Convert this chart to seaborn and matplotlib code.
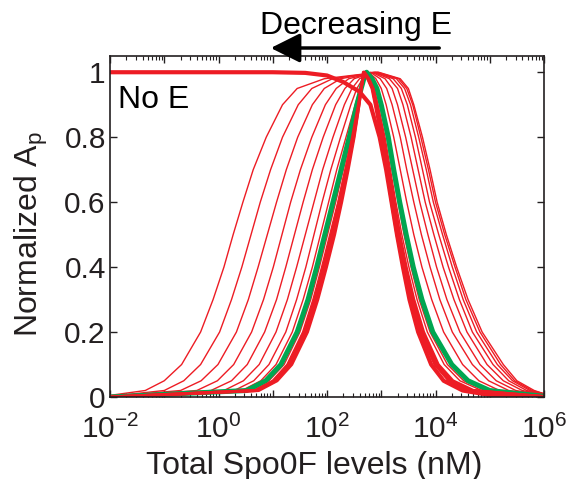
import numpy as np
import pandas as pd
import matplotlib.pyplot as plt
import seaborn as sns
from matplotlib.ticker import LogLocator, FuncFormatter, NullFormatter, FixedLocator

sns.set_style('ticks')
plt.rcParams['font.family'] = ['Liberation Sans', 'DejaVu Sans']
plt.rcParams['mathtext.fontset'] = 'custom'
plt.rcParams['mathtext.rm'] = 'Liberation Sans'
plt.rcParams['mathtext.it'] = 'Liberation Sans:italic'

# normalized Ap levels at which the curve positions (log10 nM) were read
levels_up = [0.02, 0.05, 0.1, 0.2, 0.3, 0.4, 0.5, 0.6, 0.7, 0.8, 0.9, 0.95, 0.98]
levels_down = levels_up[::-1]

# thin red curves, lowest E (widest) first: rising side, peak, falling side
c1_up = [-1.35, -1.0, -0.68, -0.33, -0.1, 0.1, 0.27, 0.45, 0.64, 0.88, 1.18, 1.45, 1.95]
c1_dn = [3.35, 3.5, 3.6, 3.76, 3.9, 4.03, 4.2, 4.39, 4.6, 4.86, 5.25, 5.5, 5.82]
c2_up = [-1.0, -0.64, -0.33, 0.02, 0.24, 0.43, 0.6, 0.77, 0.96, 1.18, 1.47, 1.72, 2.1]
c2_dn = [3.32, 3.47, 3.58, 3.73, 3.87, 4.0, 4.17, 4.36, 4.56, 4.82, 5.2, 5.46, 5.78]
c3_up = [-0.7, -0.32, -0.01, 0.33, 0.55, 0.73, 0.9, 1.07, 1.25, 1.46, 1.73, 1.95, 2.25]
c3_dn = [3.28, 3.43, 3.54, 3.69, 3.83, 3.96, 4.13, 4.31, 4.51, 4.76, 5.14, 5.42, 5.74]
c4_up = [-0.4, -0.02, 0.28, 0.61, 0.83, 1.01, 1.17, 1.33, 1.51, 1.72, 1.97, 2.17, 2.4]
c4_dn = [3.22, 3.37, 3.48, 3.63, 3.76, 3.89, 4.06, 4.24, 4.44, 4.68, 5.06, 5.35, 5.68]
c5_up = [-0.14, 0.24, 0.53, 0.85, 1.07, 1.24, 1.4, 1.56, 1.73, 1.93, 2.16, 2.33, 2.5]
c5_dn = [3.15, 3.3, 3.4, 3.55, 3.68, 3.81, 3.97, 4.14, 4.34, 4.58, 4.95, 5.25, 5.6]
c6_up = [0.1, 0.46, 0.75, 1.06, 1.27, 1.44, 1.6, 1.76, 1.92, 2.11, 2.32, 2.46, 2.6]
c6_dn = [3.07, 3.2, 3.3, 3.45, 3.58, 3.71, 3.86, 4.02, 4.21, 4.45, 4.82, 5.12, 5.48]
c7_up = [0.29, 0.65, 0.93, 1.24, 1.44, 1.61, 1.76, 1.91, 2.07, 2.25, 2.44, 2.55, 2.66]
c7_dn = [2.98, 3.1, 3.2, 3.35, 3.47, 3.6, 3.74, 3.9, 4.08, 4.31, 4.68, 4.98, 5.35]
c8_up = [0.43, 0.78, 1.06, 1.36, 1.56, 1.73, 1.88, 2.03, 2.18, 2.35, 2.52, 2.61, 2.69]
c8_dn = [2.9, 3.0, 3.09, 3.23, 3.35, 3.47, 3.6, 3.75, 3.93, 4.15, 4.5, 4.8, 5.18]
c9_up = [0.59, 0.93, 1.21, 1.5, 1.7, 1.86, 2.01, 2.16, 2.3, 2.44, 2.57, 2.63, 2.67]
c9_dn = [2.81, 2.9, 2.97, 3.1, 3.2, 3.31, 3.42, 3.55, 3.7, 3.9, 4.22, 4.52, 4.92]
c10_up = [0.65, 0.99, 1.26, 1.55, 1.74, 1.9, 2.05, 2.2, 2.33, 2.46, 2.58, 2.63, 2.66]
c10_dn = [2.79, 2.87, 2.94, 3.07, 3.17, 3.27, 3.38, 3.51, 3.66, 3.85, 4.16, 4.45, 4.85]
thin_peaks = [2.95, 2.93, 2.9, 2.88, 2.86, 2.83, 2.8, 2.77, 2.71, 2.7]
thin_start = [0.005, 0.002, 0.001, 0.0, 0.0, 0.0, 0.0, 0.0, 0.0, 0.0]
thin_end = [0.01, 0.01, 0.009, 0.008, 0.007, 0.006, 0.005, 0.004, 0.003, 0.002]

# green curve
g_up = [0.52, 0.87, 1.15, 1.45, 1.65, 1.81, 1.96, 2.11, 2.26, 2.41, 2.55, 2.63, 2.68]
g_dn = [2.83, 2.92, 3.0, 3.13, 3.23, 3.34, 3.46, 3.59, 3.75, 3.95, 4.3, 4.6, 5.0]
g_peak = 2.73

# thick red bundle (highest E)
b1_up = [0.68, 1.02, 1.29, 1.58, 1.77, 1.93, 2.08, 2.22, 2.35, 2.47, 2.58, 2.63, 2.66]
b1_dn = [2.77, 2.85, 2.92, 3.04, 3.14, 3.24, 3.34, 3.46, 3.6, 3.78, 4.05, 4.32, 4.7]
b2_up = [0.71, 1.05, 1.32, 1.61, 1.8, 1.96, 2.11, 2.25, 2.37, 2.49, 2.59, 2.63, 2.66]
b2_dn = [2.76, 2.84, 2.9, 3.02, 3.12, 3.21, 3.31, 3.43, 3.57, 3.75, 4.02, 4.28, 4.65]
b3_up = [0.74, 1.08, 1.35, 1.64, 1.83, 1.99, 2.14, 2.27, 2.39, 2.5, 2.59, 2.63, 2.66]
b3_dn = [2.75, 2.83, 2.89, 3.0, 3.1, 3.19, 3.29, 3.41, 3.55, 3.72, 3.99, 4.25, 4.62]
bundle_peaks = [2.69, 2.68, 2.67]

# no E curve
noe_x = [-2.0, 1.0, 1.6, 2.0, 2.3, 2.6, 2.8, 2.97, 3.09, 3.19, 3.29, 3.4, 3.52, 3.68, 3.92, 4.15, 4.5, 5.0, 6.0]
noe_y = [1.0, 1.0, 0.998, 0.99, 0.97, 0.94, 0.9, 0.8, 0.7, 0.6, 0.5, 0.4, 0.3, 0.2, 0.1, 0.05, 0.02, 0.006, 0.0]


def bell(name, up, peak, dn, y0, y1):
    x = [-2.0] + up + [peak] + dn + [6.0]
    y = [y0] + levels_up + [1.0] + levels_down + [y1]
    return pd.DataFrame({'curve': name, 'x': np.power(10.0, x), 'y': y})


thin_up = [c1_up, c2_up, c3_up, c4_up, c5_up, c6_up, c7_up, c8_up, c9_up, c10_up]
thin_dn = [c1_dn, c2_dn, c3_dn, c4_dn, c5_dn, c6_dn, c7_dn, c8_dn, c9_dn, c10_dn]
thin = pd.concat([bell('c%d' % (i + 1), thin_up[i], thin_peaks[i], thin_dn[i],
                       thin_start[i], thin_end[i]) for i in range(len(thin_up))])
bundle = pd.concat([bell('b1', b1_up, bundle_peaks[0], b1_dn, 0.0, 0.001),
                    bell('b2', b2_up, bundle_peaks[1], b2_dn, 0.0, 0.001),
                    bell('b3', b3_up, bundle_peaks[2], b3_dn, 0.0, 0.001)])
green = bell('g', g_up, g_peak, g_dn, 0.0, 0.002)
noe = pd.DataFrame({'x': np.power(10.0, noe_x), 'y': noe_y})

red = '#ED1C24'
grn = '#00A651'
ink = '#231F20'

fig = plt.figure(figsize=(5.68, 4.79), dpi=100)
ax = fig.add_axes([110 / 568, 1 - 397 / 479, 434 / 568, 341 / 479])

sns.lineplot(data=thin, x='x', y='y', units='curve', estimator=None, sort=False,
             color=red, lw=1.0, ax=ax)
sns.lineplot(data=green, x='x', y='y', estimator=None, sort=False,
             color=grn, lw=3.6, ax=ax)
sns.lineplot(data=bundle, x='x', y='y', units='curve', estimator=None, sort=False,
             color=red, lw=2.2, ax=ax)
sns.lineplot(data=noe, x='x', y='y', estimator=None, sort=False,
             color=red, lw=3.0, ax=ax)

ax.set_xscale('log')
ax.set_xlim(1e-2, 1e6)
ax.set_ylim(0, 1.05)
ax.xaxis.set_major_locator(LogLocator(base=10, numticks=20))
ax.xaxis.set_minor_locator(LogLocator(base=10, subs=np.arange(2, 10), numticks=100))
ax.xaxis.set_minor_formatter(NullFormatter())
ax.xaxis.set_major_formatter(FuncFormatter(
    lambda v, p: '$10^{%d}$' % round(np.log10(v)) if round(np.log10(v)) % 2 == 0 else ''))
ax.yaxis.set_major_locator(FixedLocator([0, 0.2, 0.4, 0.6, 0.8, 1.0]))
ax.yaxis.set_major_formatter(FuncFormatter(lambda v, p: '%g' % v))

ax.tick_params(which='both', direction='in', top=True, right=True, colors=ink,
               labelcolor=ink)
ax.tick_params(which='major', length=5, width=1, labelsize=21.5)
ax.tick_params(axis='x', which='major', pad=13)
ax.tick_params(axis='y', which='major', pad=3)
ax.tick_params(which='minor', length=3, width=0.8)
for s in ax.spines.values():
    s.set_linewidth(1.2)
    s.set_color(ink)

ax.set_xlabel('Total Spo0F levels (nM)', fontsize=23, color=ink)
ax.xaxis.set_label_coords((314 - 110) / 434, -0.157)
ax.set_ylabel('Normalized A$_\\mathregular{p}$', fontsize=23, color=ink)
ax.yaxis.set_label_coords(-0.139, 0.478)

ax.text(0.014, 0.889, 'No E', fontsize=23, color='k')

fig.text(356 / 568, 1 - 34 / 479, 'Decreasing E', fontsize=23, ha='center', va='baseline',
         color='k')
ax.annotate('', xy=(268 / 568, 1 - 48 / 479), xytext=(442 / 568, 1 - 48 / 479),
            xycoords='figure fraction', textcoords='figure fraction',
            arrowprops=dict(arrowstyle='-|>,head_length=0.9,head_width=0.45',
                            lw=2.5, color='k', mutation_scale=20),
            annotation_clip=False)

fig.savefig('out.png', dpi=100)
